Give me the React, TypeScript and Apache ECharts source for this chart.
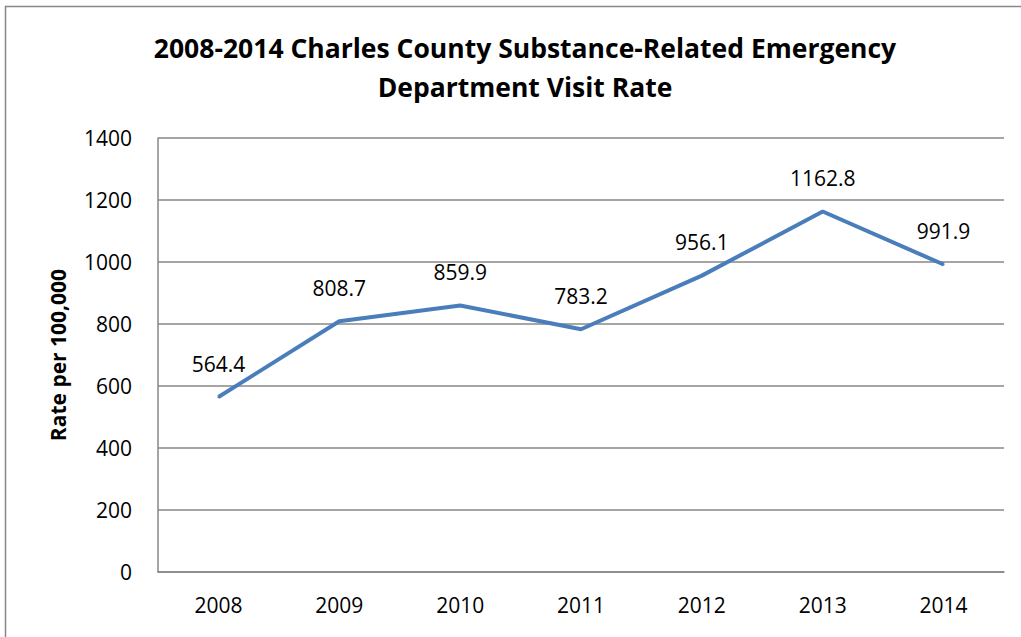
import React, { useEffect, useRef } from "react";
import * as echarts from "echarts";

const years = ["2008", "2009", "2010", "2011", "2012", "2013", "2014"];
const rates = [564.4, 808.7, 859.9, 783.2, 956.1, 1162.8, 991.9];
const titleText = "2008-2014 Charles County Substance-Related Emergency\nDepartment Visit Rate";
const yAxisTitle = "Rate per 100,000";

const FONT = "'Open Sans', 'Noto Sans', sans-serif";

export default function App() {
  const ref = useRef<HTMLDivElement>(null);
  useEffect(() => {
    if (!ref.current) return;
    const chart = echarts.init(ref.current, null, { renderer: "svg" });
    chart.setOption({
      animation: false,
      backgroundColor: "#ffffff",
      title: {
        text: titleText,
        left: 520,
        top: 23,
        textAlign: "center",
        textStyle: {
          fontFamily: FONT,
          fontWeight: "bold",
          fontSize: 26.5,
          lineHeight: 39,
          color: "#000000",
        },
      },
      graphic: [
        {
          type: "rect",
          shape: { x: 5.5, y: 6.5, width: 1100, height: 700 },
          style: { fill: "none", stroke: "#878787", lineWidth: 1.5 },
          silent: true,
          z: 100,
        },
      ],
      grid: { left: 158, right: 17, top: 138, bottom: 65 },
      xAxis: {
        type: "category",
        data: years,
        boundaryGap: true,
        axisLine: { show: true, lineStyle: { color: "#878787", width: 1.5 } },
        axisTick: { show: false },
        axisLabel: { fontFamily: FONT, fontSize: 21, color: "#000000", margin: 22 },
      },
      yAxis: {
        type: "value",
        min: 0,
        max: 1400,
        interval: 200,
        name: yAxisTitle,
        nameLocation: "middle",
        nameGap: 90,
        nameRotate: 90,
        nameTextStyle: { fontFamily: FONT, fontSize: 21, fontWeight: "bold", color: "#000000" },
        axisLine: { show: true, lineStyle: { color: "#878787", width: 1.5 } },
        axisTick: { show: false },
        splitLine: { show: true, lineStyle: { color: "#878787", width: 1.5 } },
        axisLabel: {
          fontFamily: FONT,
          fontSize: 21,
          color: "#000000",
          margin: 26,
          formatter: (v: number) => String(v),
        },
      },
      series: [
        {
          type: "line",
          data: rates,
          symbol: "circle",
          symbolSize: 2,
          showSymbol: true,
          itemStyle: { color: "#4A7EBB", borderWidth: 0 },
          lineStyle: { color: "#4A7EBB", width: 4 },
          label: {
            show: true,
            position: "top",
            distance: 22,
            fontFamily: FONT,
            fontSize: 21,
            color: "#000000",
            formatter: (p: any) => Number(p.value).toFixed(1),
          },
        },
      ],
    });
    return () => chart.dispose();
  }, []);
  return (
    <div
      ref={ref}
      style={{ position: "fixed", left: 0, top: 0, width: 1021, height: 637 }}
    />
  );
}
